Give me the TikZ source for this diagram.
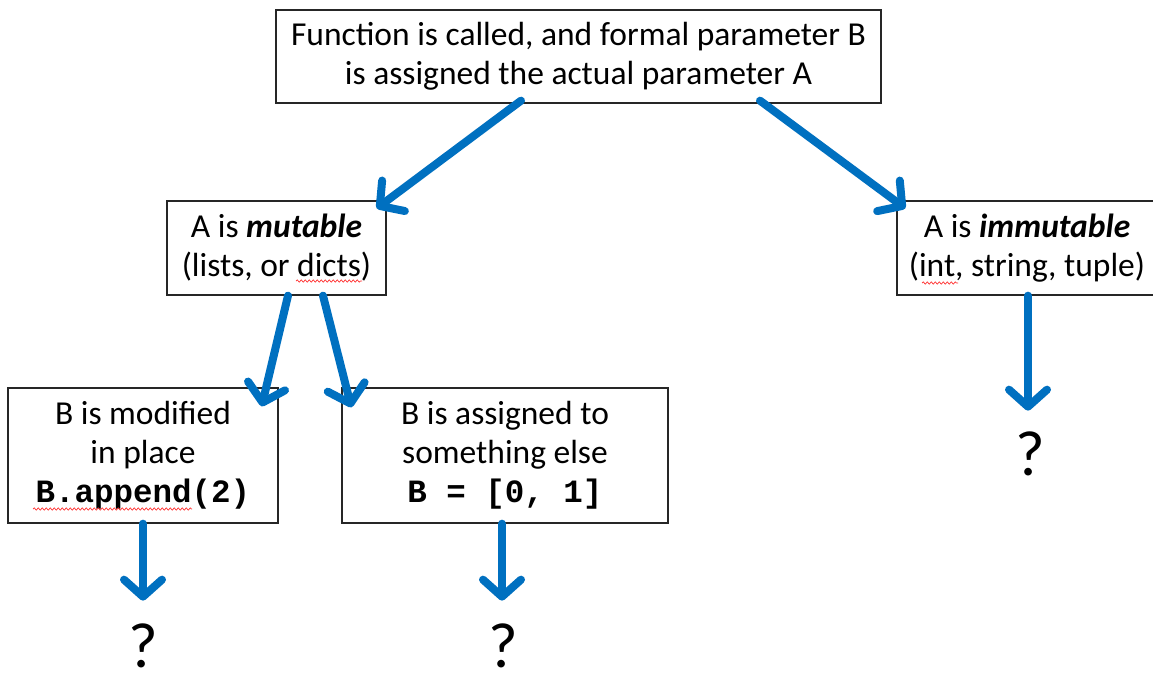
\documentclass[tikz,border=0pt]{standalone}
\usepackage{fontspec}
\setmainfont{Carlito}
\setmonofont{Liberation Mono}
\usetikzlibrary{arrows.meta,calc,decorations.pathmorphing}
\definecolor{arrowblue}{RGB}{0,112,192}
\newcommand{\boxfont}{\fontsize{33.5}{39}\selectfont}
\newcommand{\codefont}{\fontsize{32.5}{38}\selectfont\ttfamily\bfseries}
\begin{document}
\begin{tikzpicture}[x=1pt,y=-1pt,
  box/.style={draw=black!85,line width=1.3pt,align=center,inner sep=0pt,
    font=\boxfont},
  flow/.style={draw=arrowblue,line width=8pt,line cap=round,
    -{Straight Barb[length=17pt,width=38pt,line width=8pt,round]}},
  qmark/.style={font=\fontsize{64}{70}\selectfont,anchor=base,inner sep=0pt},
  squiggle/.style={draw=red!80,line width=0.7pt,decorate,
    decoration={snake,amplitude=1.1pt,segment length=4pt}}]
\useasboundingbox (0,0) rectangle (1153,673);
\clip (0,0) rectangle (1153,673);
\fill[white] (0,0) rectangle (1153,673);

\node[box,minimum width=605pt,minimum height=93pt] (top) at (578.5,56.5)
  {Function is called, and formal parameter B\\is assigned the actual parameter A};
\node[box,minimum width=219pt,minimum height=94pt] (mut) at (276.5,248)
  {A is \textbf{\textit{mutable}}\\(lists, or dicts)};
\node[box,minimum width=266pt,minimum height=94pt] (imm) at (1030,248) {};
\node[align=center,inner sep=0pt,font=\boxfont] (immtext) at (1027,248)
  {A is \textbf{\textit{immutable}}\\(int, string, tuple)};
\node[box,minimum width=270pt,minimum height=135pt] (mod) at (143,455.5)
  {B is modified\\in place\\{\codefont B.append(2)}};
\node[box,minimum width=326pt,minimum height=135pt] (asg) at (505,455.5)
  {B is assigned to\\something else\\{\codefont B = [0, 1]}};

\node[qmark] (q1) at (143.5,667) {?};
\node[qmark] (q2) at (503,667) {?};
\node[qmark] (q3) at (1030,475) {?};

\draw[flow] ($(top.south)+(-57.5,-3)$) -- ($(mut.north east)+(-10,8)$);
\draw[flow] ($(top.south)+(181.5,-3)$) -- ($(imm.north west)+(9,8)$);
\draw[flow] ($(mut.south)+(11.5,0)$) -- ($(mod.north east)+(-17,19)$);
\draw[flow] ($(mut.south)+(46.5,0)$) -- ($(asg.north west)+(10,20)$);
\draw[flow] (mod.south) -- ($(mod.south)+(0,77)$);
\draw[flow] ($(asg.south)+(-3,0)$) -- ($(asg.south)+(-3,77)$);
\draw[flow] ($(imm.south)+(-2,0)$) -- ($(imm.south)+(-2,115)$);

\draw[squiggle] (296,281) -- (362,281);
\draw[squiggle] (922,283) -- (958,283);
\draw[squiggle] (33,509) -- (192,509);
\end{tikzpicture}
\end{document}
